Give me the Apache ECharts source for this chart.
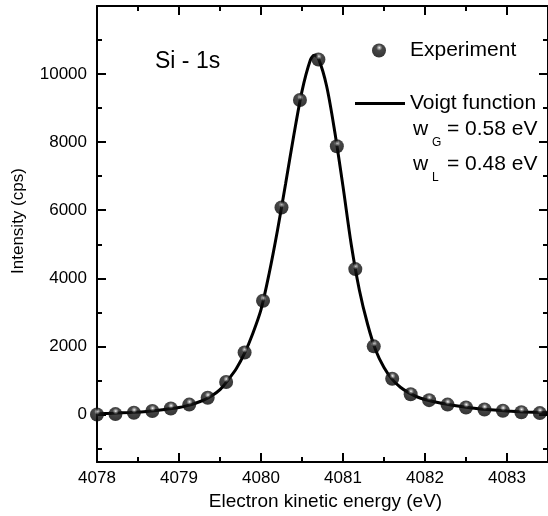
<!DOCTYPE html>
<html>
<head>
<meta charset="utf-8">
<script src="https://cdn.jsdelivr.net/npm/echarts@6/dist/echarts.min.js"></script>
<style>
html,body{margin:0;padding:0;background:#fff;}
#chart{width:548px;height:516px;}
</style>
</head>
<body>
<div id="chart"></div>
<script>
// ---- data ----
const expX = [4078.000, 4078.225, 4078.450, 4078.675, 4078.900, 4079.125, 4079.350, 4079.575, 4079.800, 4080.025, 4080.250, 4080.475, 4080.700, 4080.925, 4081.150, 4081.375, 4081.600, 4081.825, 4082.050, 4082.275, 4082.500, 4082.725, 4082.950, 4083.175, 4083.400];
const expY = [0, 10, 50, 100, 175, 290, 490, 955, 1820, 3340, 6080, 9240, 10430, 7880, 4270, 2000, 1050, 595, 420, 290, 205, 145, 110, 65, 40];

const fitX = [4078.0, 4078.2, 4078.4, 4078.6, 4078.8, 4079.0, 4079.1, 4079.2, 4079.3, 4079.4, 4079.5, 4079.6, 4079.7, 4079.8, 4079.9, 4080.0, 4080.1, 4080.2, 4080.3, 4080.4, 4080.5, 4080.6, 4080.65, 4080.7, 4080.8, 4080.9, 4081.0, 4081.1, 4081.2, 4081.3, 4081.4, 4081.5, 4081.6, 4081.7, 4081.8, 4081.9, 4082.0, 4082.2, 4082.4, 4082.6, 4082.8, 4083.0, 4083.2, 4083.5];
const fitY = [20, 35, 60, 90, 140, 205, 260, 330, 420, 550, 730, 1020, 1350, 1800, 2380, 3080, 4150, 5400, 6780, 8200, 9500, 10400, 10550, 10460, 9650, 8300, 6700, 5000, 3650, 2650, 1880, 1380, 1030, 800, 640, 520, 440, 330, 250, 185, 135, 100, 75, 50];

const xTickLabels = [4078, 4079, 4080, 4081, 4082, 4083];
const yTickLabels = [0, 2000, 4000, 6000, 8000, 10000];

const seriesNames = ['Experiment', 'Voigt function'];
const panelLabel = 'Si - 1s';
const paramLabels = [['w', 'G', '= 0.58 eV'], ['w', 'L', '= 0.48 eV']];

// ---- chart ----
const FONT = '"Liberation Sans", Arial, Helvetica, sans-serif';
const chart = echarts.init(document.getElementById('chart'), null, {renderer: 'canvas'});

const sphere = {
  type: 'radial', x: 0.52, y: 0.3, r: 0.72,
  colorStops: [
    {offset: 0, color: '#ffffff'},
    {offset: 0.1, color: '#a0a0a0'},
    {offset: 0.3, color: '#1a1a1a'},
    {offset: 1, color: '#000000'}
  ]
};

const XMIN = 4078, XMAX = 4083.5, YMIN = -1400, YMAX = 12000;
const axisCol = '#000';

function xAxisDef(position, major) {
  return {
    type: 'value', position: position, min: XMIN, max: XMAX,
    interval: major ? 1 : 0.5,
    axisLine: {show: major, onZero: false, lineStyle: {color: axisCol, width: 2}},
    axisTick: {show: true, inside: true, length: major ? 9 : 5, lineStyle: {color: axisCol, width: 2}},
    axisLabel: {show: false},
    splitLine: {show: false}
  };
}
function yAxisDef(position, major) {
  return {
    type: 'value', position: position, min: YMIN, max: YMAX,
    minInterval: major ? 2000 : 1000, maxInterval: major ? 2000 : 1000,
    axisLine: {show: major, onZero: false, lineStyle: {color: axisCol, width: 2}},
    axisTick: {show: true, inside: true, length: major ? 9 : 5, lineStyle: {color: axisCol, width: 2}},
    axisLabel: {show: false},
    splitLine: {show: false}
  };
}

const xMain = xAxisDef('bottom', true);
xMain.name = 'Electron kinetic energy (eV)';
xMain.nameLocation = 'middle';
xMain.nameGap = 28;
xMain.nameTextStyle = {fontSize: 19, color: '#000', fontFamily: FONT, padding: [0, 0, 0, 6]};
xMain.axisLabel = {
  show: true, fontSize: 17, color: '#000', margin: 8, fontFamily: FONT,
  showMaxLabel: false,
  formatter: v => (xTickLabels.indexOf(Math.round(v * 1000) / 1000) >= 0 ? String(v) : '')
};

const yMain = yAxisDef('left', true);
yMain.name = 'Intensity (cps)';
yMain.nameLocation = 'middle';
yMain.nameGap = 70;
yMain.nameTextStyle = {fontSize: 17, color: '#000', fontFamily: FONT, padding: [0, 0, 0, 26]};
yMain.axisLabel = {
  show: true, fontSize: 17, color: '#000', margin: 10, fontFamily: FONT,
  showMinLabel: false, showMaxLabel: false,
  formatter: v => (yTickLabels.indexOf(Math.round(v)) >= 0 ? String(v) : '')
};

const option = {
  animation: false,
  backgroundColor: '#ffffff',
  textStyle: {fontFamily: FONT},
  grid: {left: 97, right: -5, top: 6, bottom: 52, containLabel: false},
  xAxis: [xMain, xAxisDef('bottom', false), xAxisDef('top', true), xAxisDef('top', false)],
  yAxis: [yMain, yAxisDef('left', false), yAxisDef('right', true), yAxisDef('right', false)],
  legend: [
    {
      data: [seriesNames[0]], left: 372, top: 40, padding: 0,
      itemWidth: 14, itemHeight: 14, selectedMode: false,
      textStyle: {fontSize: 21, color: '#000', fontFamily: FONT, padding: [0, 0, 0, 19]}
    },
    {
      data: [{name: seriesNames[1], icon: 'rect'}], left: 355, top: 93, padding: 0,
      itemWidth: 50, itemHeight: 3, selectedMode: false,
      itemStyle: {color: '#000'},
      textStyle: {fontSize: 21, color: '#000', fontFamily: FONT}
    }
  ],
  series: [
    {
      name: seriesNames[1], type: 'line', xAxisIndex: 0, yAxisIndex: 0,
      data: fitX.map((x, i) => [x, fitY[i]]),
      showSymbol: false, symbol: 'none', smooth: 0.3,
      lineStyle: {color: '#000', width: 3},
      itemStyle: {color: '#000'},
      z: 2
    },
    {
      name: seriesNames[0], type: 'scatter', xAxisIndex: 0, yAxisIndex: 0,
      data: expX.map((x, i) => [x, expY[i]]),
      symbol: 'circle', symbolSize: 14,
      itemStyle: {color: sphere},
      z: 3
    }
  ],
  graphic: [
    {type: 'text', left: 155, top: 50, style: {text: panelLabel, fontSize: 23, fill: '#000', fontFamily: FONT}},
    {type: 'text', x: 413, y: 129, style: {text: paramLabels[0][0], fontSize: 21, fill: '#000', fontFamily: FONT, verticalAlign: 'middle'}},
    {type: 'text', x: 432, y: 143, style: {text: paramLabels[0][1], fontSize: 12, fill: '#000', fontFamily: FONT, verticalAlign: 'middle'}},
    {type: 'text', x: 447, y: 129, style: {text: paramLabels[0][2], fontSize: 21, fill: '#000', fontFamily: FONT, verticalAlign: 'middle'}},
    {type: 'text', x: 413, y: 164, style: {text: paramLabels[1][0], fontSize: 21, fill: '#000', fontFamily: FONT, verticalAlign: 'middle'}},
    {type: 'text', x: 432, y: 178, style: {text: paramLabels[1][1], fontSize: 12, fill: '#000', fontFamily: FONT, verticalAlign: 'middle'}},
    {type: 'text', x: 447, y: 164, style: {text: paramLabels[1][2], fontSize: 21, fill: '#000', fontFamily: FONT, verticalAlign: 'middle'}}
  ]
};
chart.setOption(option);
</script>
</body>
</html>
